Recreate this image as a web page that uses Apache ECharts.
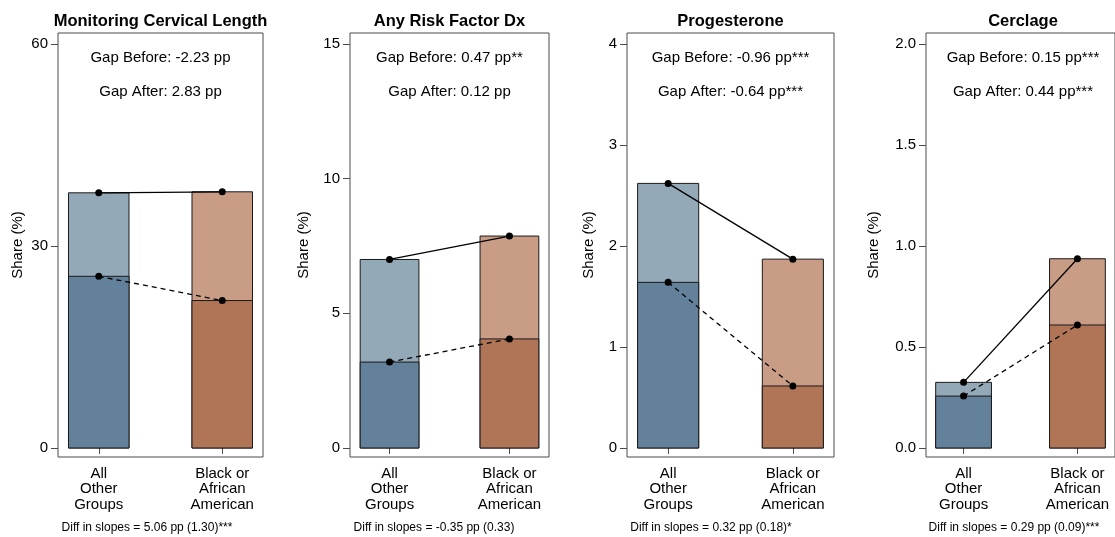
<!DOCTYPE html>
<html>
<head>
<meta charset="utf-8">
<script src="https://cdn.jsdelivr.net/npm/echarts@6/dist/echarts.min.js"></script>
<style>
  html, body { margin: 0; padding: 0; background: #fff; }
  #chart { width: 1115px; height: 537px; }
</style>
</head>
<body>
<div id="chart"></div>
<script>
// ---- data ----
const categories = ['All\nOther\nGroups', 'Black or\nAfrican\nAmerican'];
const panelTitles = ['Monitoring Cervical Length', 'Any Risk Factor Dx', 'Progesterone', 'Cerclage'];
// share (%) in the earlier period, [All Other Groups, Black or African American]
const monitoringBefore = [25.5, 21.9];
const riskFactorBefore = [3.19, 4.05];
const progesteroneBefore = [1.64, 0.614];
const cerclageBefore = [0.257, 0.609];
// share (%) in the later period
const monitoringAfter = [37.9, 38.05];
const riskFactorAfter = [7.0, 7.87];
const progesteroneAfter = [2.62, 1.87];
const cerclageAfter = [0.325, 0.937];
const yTicks = [[0, 30, 60], [0, 5, 10, 15], [0, 1, 2, 3, 4], [0, 0.5, 1, 1.5, 2]];
const gapBeforeLabels = ['Gap Before: -2.23 pp', 'Gap Before: 0.47 pp**', 'Gap Before: -0.96 pp***', 'Gap Before: 0.15 pp***'];
const gapAfterLabels = ['Gap After: 2.83 pp', 'Gap After: 0.12 pp', 'Gap After: -0.64 pp***', 'Gap After: 0.44 pp***'];
const slopeLabels = ['Diff in slopes = 5.06 pp (1.30)***', 'Diff in slopes = -0.35 pp (0.33)',
                     'Diff in slopes = 0.32 pp (0.18)*', 'Diff in slopes = 0.29 pp (0.09)***'];

const beforeSets = [monitoringBefore, riskFactorBefore, progesteroneBefore, cerclageBefore];
const afterSets = [monitoringAfter, riskFactorAfter, progesteroneAfter, cerclageAfter];

// ---- layout ----
const FONT = '"Liberation Sans", Arial, Helvetica, sans-serif';
const boxLeft = [58, 350, 627, 926];
const boxWidth = [205, 199, 207, 194];
const boxTop = 33, boxHeight = 424;
const nameGaps = [33, 39, 31, 45];
const slopeCenters = [147, 434, 711, 1014];
const X_MIN = 0.67, X_MAX = 2.33, HALF_BAR = 0.245;

const darkColors = ['#63819a', '#b07556'];
const lightColors = ['#94a9b8', '#c99c86'];

const grids = [], xAxes = [], yAxes = [], series = [], texts = [];

panelTitles.forEach((title, p) => {
  const top = yTicks[p][yTicks[p].length - 1];
  grids.push({
    left: boxLeft[p], top: boxTop, width: boxWidth[p], height: boxHeight,
    show: true, borderColor: '#4a4a4a', borderWidth: 1, backgroundColor: 'transparent'
  });
  xAxes.push({
    type: 'value', gridIndex: p, min: X_MIN, max: X_MAX,
    axisLine: { show: false },
    splitLine: { show: false },
    axisTick: { show: true, length: 6, customValues: [1, 2], lineStyle: { color: '#4a4a4a' } },
    axisLabel: {
      customValues: [1, 2], margin: 9, color: '#000', fontFamily: FONT, fontSize: 15, lineHeight: 15.5,
      formatter: v => categories[Math.round(v) - 1]
    }
  });
  yAxes.push({
    type: 'value', gridIndex: p, min: -0.0223 * top, max: 1.0273 * top,
    name: 'Share (%)', nameLocation: 'middle', nameRotate: 90, nameGap: nameGaps[p],
    nameTextStyle: { color: '#000', fontFamily: FONT, fontSize: 15 },
    axisLine: { show: false },
    splitLine: { show: false },
    axisTick: { show: true, length: 7, customValues: yTicks[p], lineStyle: { color: '#4a4a4a' } },
    axisLabel: {
      customValues: yTicks[p], margin: 10, color: '#000', fontFamily: FONT, fontSize: 15,
      formatter: v => (p === 3 ? v.toFixed(1) : String(v))
    }
  });

  const barSeries = (values, colors, z) => ({
    type: 'custom', xAxisIndex: p, yAxisIndex: p, z: z, silent: true,
    data: values.map((v, i) => [i + 1, v]),
    renderItem: (params, api) => {
      const x = api.value(0), v = api.value(1);
      const a = api.coord([x - HALF_BAR, v]);
      const b = api.coord([x + HALF_BAR, 0]);
      return {
        type: 'rect',
        shape: { x: a[0], y: a[1], width: b[0] - a[0], height: b[1] - a[1] },
        style: { fill: colors[x - 1], stroke: '#1a1a1a', lineWidth: 1 }
      };
    }
  });
  series.push(barSeries(afterSets[p], lightColors, 2));
  series.push(barSeries(beforeSets[p], darkColors, 3));

  const lineSeries = (values, dash) => ({
    type: 'line', xAxisIndex: p, yAxisIndex: p, z: 5, silent: true,
    data: values.map((v, i) => [i + 1, v]),
    symbol: 'circle', symbolSize: 7,
    itemStyle: { color: '#000' },
    lineStyle: { color: '#000', width: 1.3, type: dash ? [5, 4] : 'solid' }
  });
  series.push(lineSeries(afterSets[p], false));
  series.push(lineSeries(beforeSets[p], true));

  const cx = boxLeft[p] + boxWidth[p] / 2;
  texts.push({ type: 'text', x: cx, y: 21, style: { text: title, fill: '#000', font: 'bold 16.5px ' + FONT, textAlign: 'center', textVerticalAlign: 'middle' } });
  texts.push({ type: 'text', x: cx, y: 57.5, style: { text: gapBeforeLabels[p], fill: '#000', font: '15px ' + FONT, textAlign: 'center', textVerticalAlign: 'middle' } });
  texts.push({ type: 'text', x: cx, y: 92, style: { text: gapAfterLabels[p], fill: '#000', font: '15px ' + FONT, textAlign: 'center', textVerticalAlign: 'middle' } });
  texts.push({ type: 'text', x: slopeCenters[p], y: 528, style: { text: slopeLabels[p], fill: '#000', font: '12px ' + FONT, textAlign: 'center', textVerticalAlign: 'middle' } });
});

const chart = echarts.init(document.getElementById('chart'), null, { renderer: 'canvas' });
chart.setOption({
  animation: false,
  backgroundColor: '#fff',
  grid: grids,
  xAxis: xAxes,
  yAxis: yAxes,
  series: series,
  graphic: texts
});
</script>
</body>
</html>
